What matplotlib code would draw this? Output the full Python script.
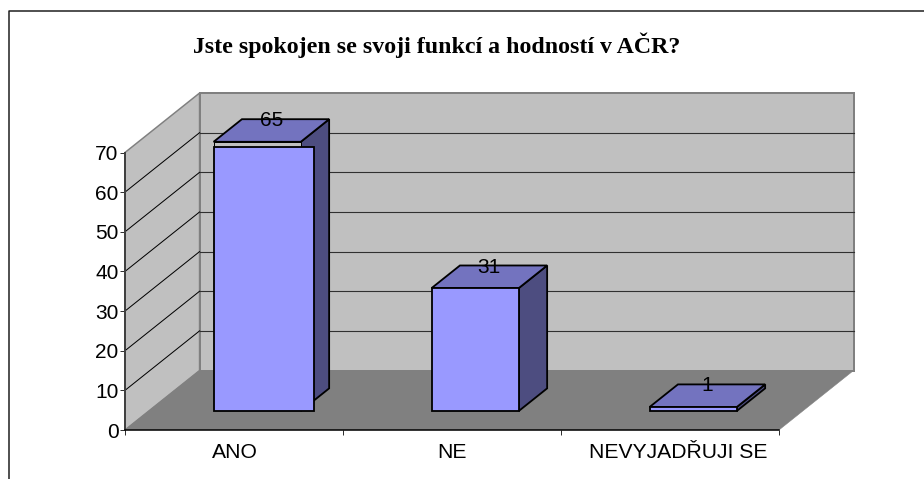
# -*- coding: utf-8 -*-
import matplotlib
matplotlib.use("Agg")
import matplotlib.pyplot as plt
from matplotlib.lines import Line2D
from matplotlib.patches import Polygon

categories = ["ANO", "NE", "NEVYJADŘUJI SE"]
values = [65, 31, 1]
# the picture draws the first bar taller and wider than its label says
top_heights = [67.9, 31, 1]
front_heights = [66.6, 31, 1]
front_widths = [0.46, 0.4, 0.4]
y_ticks = [0, 10, 20, 30, 40, 50, 60, 70]
title = "Jste spokojen se svoji funkcí a hodností v AČR?"

W, H = 924, 479
DX = 0.342   # depth shift of the back wall, in categories
DY = 15.0    # depth shift of the back wall, in value units
BAR_X = 0.297
BAR_W = 0.4
D0, D1 = 0.32, 0.7
LABEL_DROP = 0.4

WALL = "#c0c0c0"
FLOOR = "#808080"
FRONT = "#9999ff"
TOP = "#7373bf"
SIDE = "#4d4d80"
PX = 0.72


def pt(x, v, d):
    return (x + d * DX, v + d * DY)


def face(ax, pts, color, edge="black", lw=1.3 * PX * 1.4, z=3):
    ax.add_patch(Polygon(pts, closed=True, facecolor=color, edgecolor=edge,
                         linewidth=lw, zorder=z, clip_on=False, joinstyle="miter"))


plt.rcParams["font.family"] = ["Liberation Sans", "DejaVu Sans"]
fig = plt.figure(figsize=(W / 100, H / 100), dpi=100)
ax = fig.add_axes([125 / W, (H - 430) / H, 654 / W, 277.5 / H])
ax.set_xlim(0, 3)
ax.set_ylim(0, 70)
ax.patch.set_visible(False)

# walls and floor
n = len(categories)
vmax = y_ticks[-1]
face(ax, [pt(0, 0, 1), pt(n, 0, 1), pt(n, vmax, 1), pt(0, vmax, 1)], WALL, FLOOR, 2 * PX, 1)
face(ax, [pt(0, 0, 0), pt(0, 0, 1), pt(0, vmax, 1), pt(0, vmax, 0)], WALL, FLOOR, 1.5 * PX, 1)
face(ax, [pt(0, 0, 0), pt(n, 0, 0), pt(n, 0, 1), pt(0, 0, 1)], FLOOR, FLOOR, 0.5 * PX, 1)

# gridlines
for t in y_ticks[1:-1]:
    x1, y1 = pt(0, t, 0)
    x2, y2 = pt(0, t, 1)
    x3, y3 = pt(n, t, 1)
    ax.plot([x1, x2], [y1, y2], color="black", lw=1 * PX, zorder=2, clip_on=False)
    ax.plot([x2, x3], [y2, y3], color="#303030", lw=1.1 * PX, zorder=2, clip_on=False)

# bars
for i in range(n):
    x0 = i + BAR_X
    x1 = x0 + BAR_W
    h = top_heights[i]
    fh = front_heights[i]
    fx1 = x0 + front_widths[i]
    face(ax, [pt(x1, 0, D0), pt(x1, 0, D1), pt(x1, h, D1), pt(x1, h, D0)], SIDE)
    face(ax, [pt(x0, h, D0), pt(x1, h, D0), pt(x1, h, D1), pt(x0, h, D1)], TOP)
    if h > fh:
        face(ax, [pt(x0, fh, D0), pt(x1, fh, D0), pt(x1, h, D0), pt(x0, h, D0)], WALL, "black", 1 * PX, 3)
    face(ax, [pt(x0, 0, D0), pt(fx1, 0, D0), pt(fx1, fh, D0), pt(x0, fh, D0)], FRONT, z=4)
    lx = pt(x0 + BAR_W / 2, h, (D0 + D1) / 2)[0]
    ly = pt(x0, h, D1)[1] - LABEL_DROP
    ax.text(lx, ly, str(values[i]), ha="center", va="center", fontsize=15,
            color="black", zorder=5)

# axes
for s in ["top", "right"]:
    ax.spines[s].set_visible(False)
ax.spines["left"].set_color("#404040")
ax.spines["left"].set_linewidth(2 * PX)
ax.spines["bottom"].set_color("black")
ax.spines["bottom"].set_linewidth(1.5 * PX)
for s in ax.spines.values():
    s.set_zorder(6)
ax.set_yticks(y_ticks)
ax.tick_params(axis="y", length=5 * PX, width=1 * PX, color="#303030", labelsize=15, pad=1)
ax.set_xticks(range(n + 1))
ax.set_xticklabels([])
ax.set_xticks([0.505, 1.5, 2.54], labels=categories, minor=True)
ax.tick_params(axis="x", which="major", length=5 * PX, width=1 * PX, color="#303030")
ax.tick_params(axis="x", which="minor", length=0, labelsize=15.2, pad=9.5)

# outer frame, open on the right and at the bottom
fig.add_artist(Line2D([8.5 / W, 8.5 / W, 1], [0, 1 - 10.5 / H, 1 - 10.5 / H],
                      color="#1a1a1a", lw=1.5 * PX))

fig.text(436.5 / W, 1 - 45 / H, title, ha="center", va="center", fontsize=17.2,
         fontweight="bold", family=["Liberation Serif", "DejaVu Serif"], color="black")

fig.savefig("out.png", dpi=100)
